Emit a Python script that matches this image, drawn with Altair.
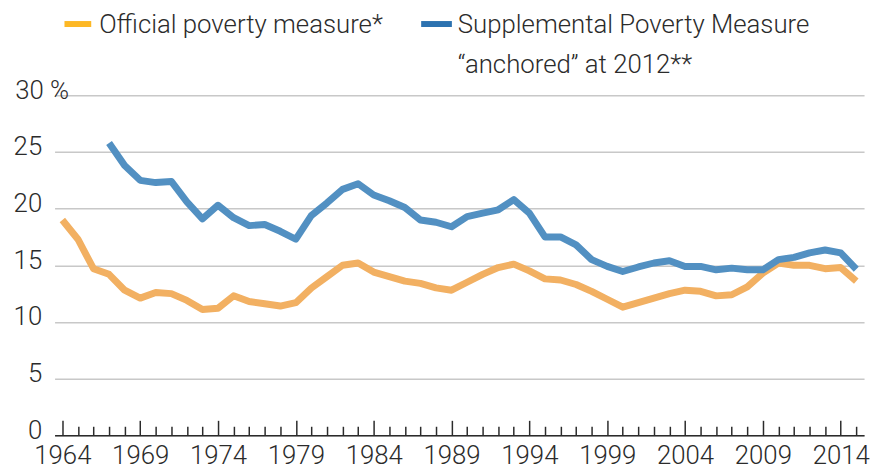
import altair as alt
import pandas as pd

# ---- data ----
official_years = list(range(1964, 2016))
official_rate = [19.0, 17.3, 14.7, 14.2, 12.8, 12.1, 12.6, 12.5, 11.9, 11.1,
                 11.2, 12.3, 11.8, 11.6, 11.4, 11.7, 13.0, 14.0, 15.0, 15.2,
                 14.4, 14.0, 13.6, 13.4, 13.0, 12.8, 13.5, 14.2, 14.8, 15.1,
                 14.5, 13.8, 13.7, 13.3, 12.7, 12.0, 11.3, 11.7, 12.1, 12.5,
                 12.8, 12.7, 12.3, 12.4, 13.1, 14.3, 15.2, 15.0, 15.0, 14.7,
                 14.8, 13.6]

spm_years = list(range(1967, 2016))
spm_rate = [25.8, 23.8, 22.5, 22.3, 22.4, 20.6, 19.1, 20.3, 19.2, 18.5,
            18.6, 18.0, 17.3, 19.4, 20.5, 21.7, 22.2, 21.2, 20.7, 20.1,
            19.0, 18.8, 18.4, 19.3, 19.6, 19.9, 20.8, 19.6, 17.5, 17.5,
            16.8, 15.5, 14.9, 14.45, 14.85, 15.2, 15.4, 14.9, 14.9, 14.6,
            14.75, 14.6, 14.6, 15.5, 15.7, 16.1, 16.35, 16.1, 14.65]

series_names = ["Official poverty measure*",
                "Supplemental Poverty Measure “anchored” at 2012**"]
line_colors = ["#F2B062", "#5290C2"]
legend_colors = ["#FDB825", "#2C72B0"]
legend_lines = ["Official poverty measure*",
                "Supplemental Poverty Measure",
                "“anchored” at 2012**"]

y_ticks = [0, 5, 10, 15, 20, 25, 30]
x_label_years = list(range(1964, 2015, 5))
x_tick_years = list(range(1964, 2016))

FONT = "Roboto"
WEIGHT = 300
TXT = "#2b2b2b"

df = pd.concat([
    pd.DataFrame({"Year": official_years, "Rate": official_rate, "Series": series_names[0]}),
    pd.DataFrame({"Year": spm_years, "Rate": spm_rate, "Series": series_names[1]}),
])

W, H = 817, 343
xscale = alt.Scale(domain=[1963.5, 2015.5], nice=False, zero=False)

lines = alt.Chart(df).mark_line(strokeWidth=7, strokeJoin="round").encode(
    x=alt.X("Year:Q", scale=xscale, title=None,
            axis=alt.Axis(values=x_label_years, format="d", grid=False, ticks=False,
                          domain=True, domainColor=TXT, domainWidth=1.5,
                          labelFont=FONT, labelFontWeight=WEIGHT, labelFontSize=26,
                          labelColor=TXT, labelPadding=8, labelFlush=False)),
    y=alt.Y("Rate:Q", scale=alt.Scale(domain=[0, 30], nice=False), title=None,
            axis=alt.Axis(values=y_ticks, grid=True, gridColor="#C8C8C8", gridWidth=1.5,
                          domain=False, ticks=False,
                          labelFont=FONT, labelFontWeight=WEIGHT, labelFontSize=26,
                          labelColor=TXT, labelPadding=13, labelOffset=-5,
                          labelExpr="datum.value === 30 ? '30 %' : datum.label",
                          labelAlign={"condition": {"test": "datum.value === 30", "value": "center"},
                                      "value": "right"})),
    color=alt.Color("Series:N", scale=alt.Scale(domain=series_names, range=line_colors),
                    legend=None),
)

ticks = alt.Chart(pd.DataFrame({"Year": x_tick_years})).mark_point(opacity=0).encode(
    x=alt.X("Year:Q", scale=xscale, title=None,
            axis=alt.Axis(orient="top", offset=-H, values=x_tick_years, labels=False,
                          domain=False, grid=False, tickColor=TXT, tickWidth=1.5,
                          tickSize={"condition": {"test": "datum.value % 5 === 4", "value": 15},
                                    "value": 9})),
)

one = pd.DataFrame({"a": [0]})
swatch1 = alt.Chart(one).mark_rule(strokeWidth=6, color=legend_colors[0]).encode(
    x=alt.value(10), x2=alt.value(37), y=alt.value(-72))
swatch2 = alt.Chart(one).mark_rule(strokeWidth=6, color=legend_colors[1]).encode(
    x=alt.value(370), x2=alt.value(401), y=alt.value(-72))


def legend_text(txt, x, y):
    return alt.Chart(one).mark_text(align="left", baseline="alphabetic", font=FONT,
                                    fontWeight=WEIGHT, fontSize=26, color=TXT).encode(
        x=alt.value(x), y=alt.value(y), text=alt.value(txt))


chart = alt.layer(
    lines, ticks, swatch1, swatch2,
    legend_text(legend_lines[0], 45, -63),
    legend_text(legend_lines[1], 407, -63),
    legend_text(legend_lines[2], 407, -23),
).resolve_axis(x="independent").properties(
    width=W, height=H,
    autosize=alt.AutoSizeParams(type="none"),
    padding={"left": 47, "top": 86, "right": 6, "bottom": 37},
).configure_view(stroke=None)

chart.save("out.html", embed_options={"renderer": "svg", "actions": False})
